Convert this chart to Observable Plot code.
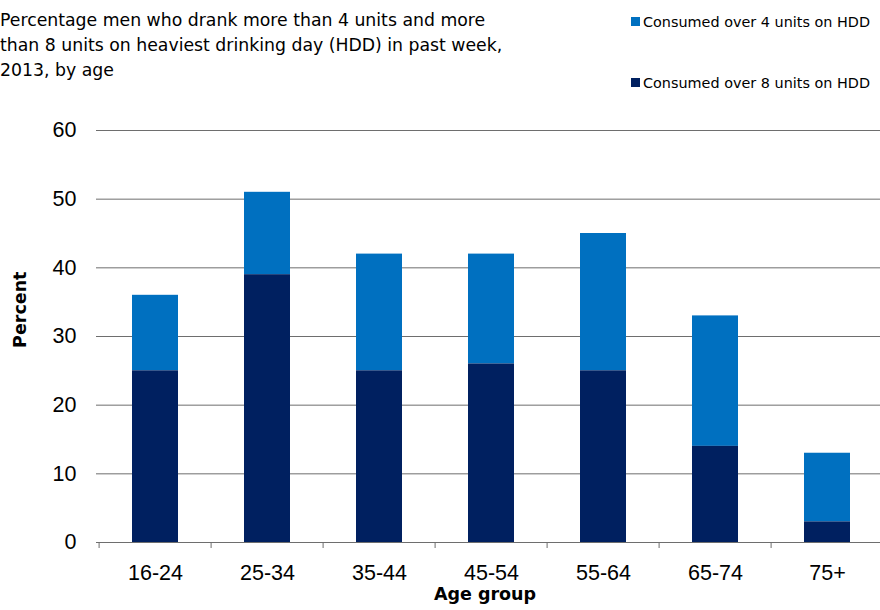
<!DOCTYPE html>
<html>
<head>
<meta charset="utf-8">
<script src="https://cdn.jsdelivr.net/npm/d3@7"></script>
<script src="https://cdn.jsdelivr.net/npm/@observablehq/plot@0.6"></script>
<style>
  body { margin: 0; background: #fff; }
  #wrap { position: relative; width: 880px; height: 610px; overflow: hidden; font-family: "DejaVu Sans", sans-serif; color: #000; }
  #head { position: relative; width: 880px; height: 100px; }
  .title { position: absolute; left: 0; top: 7.5px; font-size: 17.3px; line-height: 25px; white-space: nowrap; }
  .sw { position: absolute; left: 631px; width: 9px; height: 9px; }
  .lt { position: absolute; left: 643px; font-size: 14.4px; line-height: 14.4px; white-space: nowrap; }
  #chart svg { display: block; }
</style>
</head>
<body>
<div id="wrap">
  <div id="head">
    <div class="title" id="title"></div>
    <div class="sw" id="sw0" style="top:17px"></div>
    <div class="lt" id="lt0" style="top:15.4px"></div>
    <div class="sw" id="sw1" style="top:77.5px"></div>
    <div class="lt" id="lt1" style="top:75.6px"></div>
  </div>
  <div id="chart"></div>
</div>
<script>
// ---- data ----
const titleLines = [
  "Percentage men who drank more than 4 units and more",
  "than 8 units on heaviest drinking day (HDD) in past week,",
  "2013, by age"
];
const ageGroups = ["16-24", "25-34", "35-44", "45-54", "55-64", "65-74", "75+"];
const over4Units = [36, 51, 42, 42, 45, 33, 13];
const over8Units = [25, 39, 25, 26, 25, 14, 3];
const seriesNames = ["Consumed over 4 units on HDD", "Consumed over 8 units on HDD"];
const yTicks = [0, 10, 20, 30, 40, 50, 60];
const yLabel = "Percent";
const xLabel = "Age group";

// ---- styles ----
const colors = ["#0070C0", "#002060"];
const gridColor = "#6e6e6e";

// header
document.getElementById("title").innerHTML = titleLines.join("<br>");
seriesNames.forEach((name, i) => {
  document.getElementById("sw" + i).style.background = colors[i];
  document.getElementById("lt" + i).textContent = name;
});

const data = ageGroups.map((g, i) => ({group: g, over4: over4Units[i], over8: over8Units[i]}));

const W = 880, H = 510;
const left = 96, step = 112.8;

const chart = Plot.plot({
  width: W,
  height: H,
  marginTop: 30,
  marginBottom: 68,
  marginLeft: left,
  marginRight: 0,
  style: {fontFamily: "'Liberation Sans', Arial, sans-serif", fontSize: "21.5px", color: "#000", background: "#fff"},
  x: {domain: ageGroups, range: [left, left + step * ageGroups.length], paddingInner: 0.59, paddingOuter: 0.295, label: null},
  y: {domain: [0, 60], range: [442, 30], label: null},
  marks: [
    Plot.ruleY(yTicks, {stroke: gridColor, strokeWidth: 1}),
    Plot.barY(data, {x: "group", y1: "over8", y2: "over4", fill: colors[0]}),
    Plot.barY(data, {x: "group", y1: 0, y2: "over8", fill: colors[1]}),
    Plot.ruleY([0], {stroke: gridColor, strokeWidth: 1}),
    Plot.ruleX(ageGroups, {x: d => d, dx: -step / 2, y1: 0, y2: 0, insetBottom: -6, stroke: gridColor}),
    Plot.axisY(yTicks, {tickSize: 0, tickPadding: 20, label: null, fontSize: 21.5}),
    Plot.axisX({tickSize: 0, tickPadding: 22, label: null, fontSize: 21.5}),
    Plot.text([xLabel], {frameAnchor: "bottom", text: d => d, dx: -3.5, dy: 57, lineAnchor: "bottom", textAnchor: "middle",
      fontFamily: "DejaVu Sans", fontWeight: "bold", fontSize: 17.5, fill: "#000"}),
    Plot.text([yLabel], {frameAnchor: "left", text: d => d, rotate: -90, dx: -76, dy: -26.8, lineAnchor: "middle", textAnchor: "middle",
      fontFamily: "DejaVu Sans", fontWeight: "bold", fontSize: 17.5, fill: "#000"})
  ]
});
document.getElementById("chart").appendChild(chart);
</script>
</body>
</html>
